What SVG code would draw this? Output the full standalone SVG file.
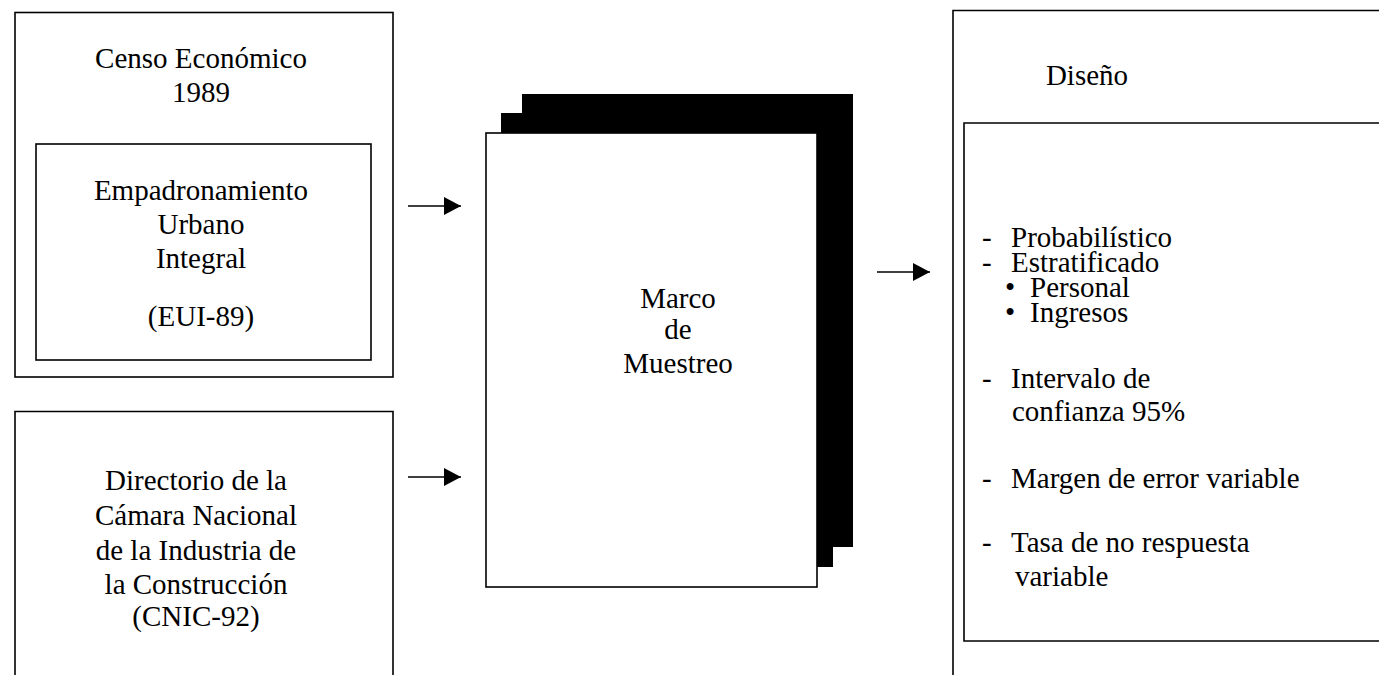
<svg xmlns="http://www.w3.org/2000/svg" width="1379" height="675" viewBox="0 0 1379 675">
<defs>
<style>
.box{fill:none;stroke:#000;stroke-width:1.6}
.page{fill:#fff;stroke:#000;stroke-width:1.6}
.blk{fill:#000}
.ln{stroke:#000;stroke-width:1.6;fill:none}
</style>
<marker id="ah" markerWidth="18" markerHeight="18" refX="17" refY="9" orient="auto" markerUnits="userSpaceOnUse">
<path d="M0,0 L17,9 L0,18 Z" fill="#000"/>
</marker>
</defs>
<rect width="1379" height="675" fill="#fff"/>

<g id="censo">
<rect class="box" x="15" y="12.5" width="378" height="364.5"/>
<text font-family="Liberation Serif" font-size="29" text-anchor="middle" x="201" y="68">Censo Económico</text>
<text font-family="Liberation Serif" font-size="29" text-anchor="middle" x="201" y="102">1989</text>
</g>
<g id="eui">
<rect class="box" x="36" y="144" width="335" height="216"/>
<text font-family="Liberation Serif" font-size="29" text-anchor="middle" x="201" y="200">Empadronamiento</text>
<text font-family="Liberation Serif" font-size="29" text-anchor="middle" x="201" y="234">Urbano</text>
<text font-family="Liberation Serif" font-size="29" text-anchor="middle" x="201" y="268">Integral</text>
<text font-family="Liberation Serif" font-size="29" text-anchor="middle" x="201" y="326">(EUI-89)</text>
</g>
<g id="cnic">
<path class="box" d="M15,676 L15,411.5 L393,411.5 L393,676"/>
<text font-family="Liberation Serif" font-size="29" text-anchor="middle" x="196" y="490">Directorio de la</text>
<text font-family="Liberation Serif" font-size="29" text-anchor="middle" x="196" y="525">Cámara Nacional</text>
<text font-family="Liberation Serif" font-size="29" text-anchor="middle" x="196" y="560">de la Industria de</text>
<text font-family="Liberation Serif" font-size="29" text-anchor="middle" x="196" y="594">la Construcción</text>
<text font-family="Liberation Serif" font-size="29" text-anchor="middle" x="196" y="626">(CNIC-92)</text>
</g>
<g id="marco">
<rect class="blk" x="522" y="94" width="331" height="453"/>
<rect class="blk" x="501" y="113" width="332" height="454"/>
<rect class="page" x="486" y="133" width="331" height="454"/>
<text font-family="Liberation Serif" font-size="29" text-anchor="middle" x="678" y="308">Marco</text>
<text font-family="Liberation Serif" font-size="29" text-anchor="middle" x="678" y="339">de</text>
<text font-family="Liberation Serif" font-size="29" text-anchor="middle" x="678" y="373">Muestreo</text>
</g>
<g id="diseno">
<path class="box" d="M953,676 L953,10.5 L1380,10.5"/>
<text font-family="Liberation Serif" font-size="29" text-anchor="middle" x="1087" y="85">Diseño</text>
<path class="box" d="M1380,123 L964,123 L964,641 L1380,641"/>
<text font-family="Liberation Serif" font-size="29" x="982" y="247"><tspan>-</tspan><tspan x="1011">Probabilístico</tspan></text>
<text font-family="Liberation Serif" font-size="29" x="982" y="272"><tspan>-</tspan><tspan x="1011">Estratificado</tspan></text>
<text font-family="Liberation Serif" font-size="29" x="1005" y="297"><tspan>•</tspan><tspan x="1030">Personal</tspan></text>
<text font-family="Liberation Serif" font-size="29" x="1005" y="322"><tspan>•</tspan><tspan x="1030">Ingresos</tspan></text>
<text font-family="Liberation Serif" font-size="29" x="982" y="388"><tspan>-</tspan><tspan x="1011">Intervalo de</tspan></text>
<text font-family="Liberation Serif" font-size="29" x="1012" y="421">confianza 95%</text>
<text font-family="Liberation Serif" font-size="29" x="982" y="488"><tspan>-</tspan><tspan x="1011">Margen de error variable</tspan></text>
<text font-family="Liberation Serif" font-size="29" x="982" y="552"><tspan>-</tspan><tspan x="1011">Tasa de no respuesta</tspan></text>
<text font-family="Liberation Serif" font-size="29" x="1015" y="586">variable</text>
</g>
<g id="connectors">
<line class="ln" x1="408" y1="206" x2="461" y2="206" marker-end="url(#ah)"/>
<line class="ln" x1="408" y1="477" x2="461" y2="477" marker-end="url(#ah)"/>
<line class="ln" x1="877" y1="272" x2="930" y2="272" marker-end="url(#ah)"/>
</g>
</svg>
